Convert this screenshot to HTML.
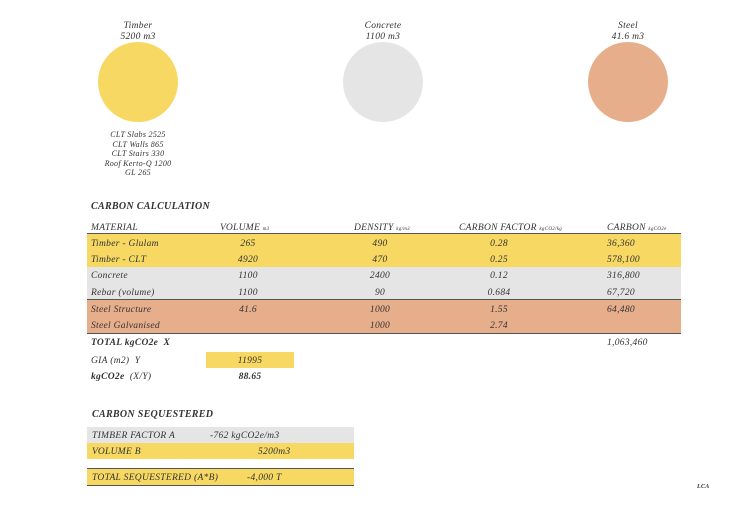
<!DOCTYPE html>
<html><head><style>
body{margin:0;width:730px;height:516px;background:#fff;position:relative;font-family:"Liberation Serif",serif;font-style:italic;color:#333;overflow:hidden;letter-spacing:0.3px}
.a{position:absolute;white-space:nowrap}
.c{position:absolute;border-radius:50%;width:80px;height:80px}
.lbl{position:absolute;text-align:center;font-size:9.5px;line-height:11px;width:120px;margin-top:2px}
.r{position:absolute;left:87px;width:594px}
.t{font-size:9.5px;position:absolute;margin-top:2px;white-space:nowrap}
.ctr{transform:translateX(-50%)}
small{font-size:5px}
.h{margin-top:2px}
</style></head><body>
<div class="lbl" style="left:78px;top:19px">Timber<br>5200 m3</div>
<div class="lbl" style="left:323px;top:19px">Concrete<br>1100 m3</div>
<div class="lbl" style="left:568px;top:19px">Steel<br>41.6 m3</div>
<div class="c" style="left:98px;top:42px;background:#f6d862"></div>
<div class="c" style="left:343px;top:42px;background:#e5e5e5"></div>
<div class="c" style="left:588px;top:42px;background:#e6ae8b"></div>
<div class="lbl" style="left:78px;top:128px;font-size:8px;line-height:9.5px">CLT Slabs 2525<br>CLT Walls 865<br>CLT Stairs 330<br>Roof Kerto-Q 1200<br>GL 265</div>

<div class="a h" style="left:91px;top:199px;font-size:10px;font-weight:bold">CARBON CALCULATION</div>
<div class="t" style="left:91px;top:221px">MATERIAL</div>
<div class="t" style="left:220px;top:221px">VOLUME <small>m3</small></div>
<div class="t" style="left:354px;top:221px">DENSITY <small>kg/m3</small></div>
<div class="t" style="left:459px;top:221px">CARBON FACTOR <small>kgCO2/kg</small></div>
<div class="t" style="left:607px;top:221px">CARBON <small>kgCO2e</small></div>

<div class="r" style="top:233px;height:33px;background:#f6d862;border-top:1.5px solid #555;border-bottom:1.5px solid #555"></div>
<div class="r" style="top:267px;height:32px;background:#e5e5e5"></div>
<div class="r" style="top:299px;height:33px;background:#e6ae8b;border-top:1.5px solid #555;border-bottom:1.5px solid #555"></div>

<div class="t" style="left:91px;top:237px">Timber - Glulam</div>
<div class="t ctr" style="left:248px;top:237px">265</div>
<div class="t ctr" style="left:380px;top:237px">490</div>
<div class="t ctr" style="left:499px;top:237px">0.28</div>
<div class="t" style="left:607px;top:237px">36,360</div>
<div class="t" style="left:91px;top:253px">Timber - CLT</div>
<div class="t ctr" style="left:248px;top:253px">4920</div>
<div class="t ctr" style="left:380px;top:253px">470</div>
<div class="t ctr" style="left:499px;top:253px">0.25</div>
<div class="t" style="left:607px;top:253px">578,100</div>
<div class="t" style="left:91px;top:269px">Concrete</div>
<div class="t ctr" style="left:248px;top:269px">1100</div>
<div class="t ctr" style="left:380px;top:269px">2400</div>
<div class="t ctr" style="left:499px;top:269px">0.12</div>
<div class="t" style="left:607px;top:269px">316,800</div>
<div class="t" style="left:91px;top:286px">Rebar (volume)</div>
<div class="t ctr" style="left:248px;top:286px">1100</div>
<div class="t ctr" style="left:380px;top:286px">90</div>
<div class="t ctr" style="left:499px;top:286px">0.684</div>
<div class="t" style="left:607px;top:286px">67,720</div>
<div class="t" style="left:91px;top:303px">Steel Structure</div>
<div class="t ctr" style="left:248px;top:303px">41.6</div>
<div class="t ctr" style="left:380px;top:303px">1000</div>
<div class="t ctr" style="left:499px;top:303px">1.55</div>
<div class="t" style="left:607px;top:303px">64,480</div>
<div class="t" style="left:91px;top:319px">Steel Galvanised</div>
<div class="t ctr" style="left:380px;top:319px">1000</div>
<div class="t ctr" style="left:499px;top:319px">2.74</div>

<div class="t" style="left:91px;top:336px;font-weight:bold">TOTAL kgCO2e&nbsp; X</div>
<div class="t" style="left:607px;top:336px">1,063,460</div>
<div class="a" style="left:206px;top:352px;width:88px;height:16px;background:#f6d862"></div>
<div class="t" style="left:91px;top:354px">GIA (m2)&nbsp; Y</div>
<div class="t ctr" style="left:250px;top:354px">11995</div>
<div class="t" style="left:91px;top:370px;font-weight:bold">kgCO2e&nbsp; <span style="font-weight:normal">(X/Y)</span></div>
<div class="t ctr" style="left:250px;top:370px;font-weight:bold">88.65</div>

<div class="a h" style="left:92px;top:407px;font-size:10px;font-weight:bold">CARBON SEQUESTERED</div>
<div class="a" style="left:87px;top:427px;width:267px;height:16px;background:#e5e5e5"></div>
<div class="a" style="left:87px;top:443px;width:267px;height:16px;background:#f6d862"></div>
<div class="a" style="left:87px;top:468px;width:267px;height:16px;background:#f6d862;border-top:1.5px solid #555;border-bottom:1.5px solid #555"></div>
<div class="t" style="left:92px;top:429px">TIMBER FACTOR A</div>
<div class="t" style="left:210px;top:429px">-762 kgCO2e/m3</div>
<div class="t" style="left:92px;top:445px">VOLUME B</div>
<div class="t" style="left:258px;top:445px">5200m3</div>
<div class="t" style="left:92px;top:471px">TOTAL SEQUESTERED (A*B)</div>
<div class="t" style="left:247px;top:471px">-4,000 T</div>
<div class="a" style="left:697px;top:484px;font-size:6px;font-weight:bold">LCA</div>
</body></html>
